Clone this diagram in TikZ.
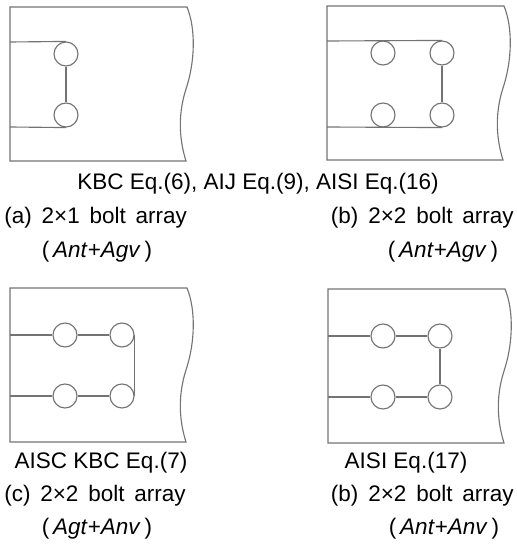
\documentclass[tikz,border=0pt]{standalone}
\usepackage{fontspec}
\setmainfont{Liberation Sans}
\newcommand{\widesp}{\spaceskip 7pt plus 2pt\relax}
\begin{document}
\begin{tikzpicture}[x=0.025cm,y=-0.025cm,
        plate/.style={draw=black!55,line width=0.8pt},
        path/.style={draw=black!55,line width=0.8pt},
        hole/.style={circle,draw=black!55,line width=0.8pt,minimum size=24*0.025cm,inner sep=0pt},
        lbl/.style={font=\fontsize{16}{19}\selectfont,inner sep=0pt},
        wlbl/.style={font={\fontsize{16}{19}\selectfont\widesp},inner sep=0pt}]
        \useasboundingbox (0,0) rectangle (517,550);
        \newcommand{\plate}{\draw[plate] (177,0) .. controls (186,22) and (185,55) .. (176,82) .. controls (167,110) and (170,135) .. (176,154) -- (0,154) -- (0,0) -- cycle ;}

        % (a) 2x1
        \begin{scope}[shift={(10,7)}]
        \plate
        \node[hole] (A1) at (56,47) {};
        \node[hole] (A2) at (56,108) {};
        \coordinate (Ea) at (0,35);
        \coordinate (Eb) at (0,120);
        \draw[path] (Ea) -- (A1.north) ;
        \draw[path] (Eb) -- (A2.south) ;
        \draw[path] (A1.south) -- (A2.north) ;
        \end{scope}

        % (b) 2x2
        \begin{scope}[shift={(327,6)}]
        \plate
        \node[hole] (B1) at (56,47) {};
        \node[hole] (B2) at (115,47) {};
        \node[hole] (B3) at (56,109) {};
        \node[hole] (B4) at (115,109) {};
        \coordinate (Ea) at (0,35);
        \coordinate (Eb) at (0,121);
        \draw[path] (Ea) -- (B2.north) ;
        \draw[path] (Eb) -- (B4.south) ;
        \draw[path] (B2.south) -- (B4.north) ;
        \end{scope}

        % (c) 2x2
        \begin{scope}[shift={(10,288)}]
        \plate
        \node[hole] (C1) at (55,47) {};
        \node[hole] (C2) at (112,47) {};
        \node[hole] (C3) at (55,108) {};
        \node[hole] (C4) at (112,108) {};
        \coordinate (Ea) at (0,47);
        \coordinate (Eb) at (0,108);
        \draw[path] (Ea) -- (C1.west) (C1.east) -- (C2.west) ;
        \draw[path] (Eb) -- (C3.west) (C3.east) -- (C4.west) ;
        \draw[path] (C2.east) -- (C4.east) ;
        \end{scope}

        % (d) 2x2
        \begin{scope}[shift={(328,289)}]
        \plate
        \node[hole] (D1) at (55,47) {};
        \node[hole] (D2) at (112,47) {};
        \node[hole] (D3) at (55,108) {};
        \node[hole] (D4) at (112,108) {};
        \coordinate (Ea) at (0,47);
        \coordinate (Eb) at (0,108);
        \draw[path] (Ea) -- (D1.west) (D1.east) -- (D2.west) ;
        \draw[path] (Eb) -- (D3.west) (D3.east) -- (D4.west) ;
        \draw[path] (D2.south) -- (D4.north) ;
        \end{scope}

        % captions
        \node[lbl] (capab) at (258,184) {KBC Eq.(6), AIJ Eq.(9), AISI Eq.(16)};
        \node[wlbl,anchor=west] (capa) at (4,218) {(a) 2×1 bolt array};
        \node[wlbl,anchor=east] (capb) at (514,218) {(b) 2×2 bolt array};
        \node[lbl] (typa) at (97,252) {(\,\textit{Ant}+\textit{Agv}\,)};
        \node[lbl] (typb) at (443,252) {(\,\textit{Ant}+\textit{Agv}\,)};
        \node[lbl] (capc0) at (101,463) {AISC KBC Eq.(7)};
        \node[lbl] (capd0) at (406,463) {AISI Eq.(17)};
        \node[wlbl,anchor=west] (capc) at (4,496) {(c) 2×2 bolt array};
        \node[wlbl,anchor=east] (capd) at (514,496) {(b) 2×2 bolt array};
        \node[lbl] (typc) at (97,529) {(\,\textit{Agt}+\textit{Anv}\,)};
        \node[lbl] (typd) at (444,529) {(\,\textit{Ant}+\textit{Anv}\,)};
\end{tikzpicture}
\end{document}
